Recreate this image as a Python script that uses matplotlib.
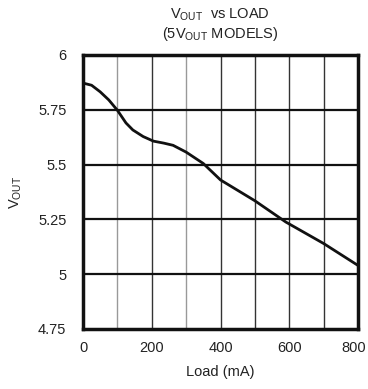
import matplotlib
matplotlib.use("Agg")
import matplotlib.pyplot as plt
import numpy as np

plt.rcParams['font.family'] = ['Liberation Sans', 'DejaVu Sans']
plt.rcParams['mathtext.default'] = 'regular'

load_ma = [0, 25, 50, 75, 100, 125, 145, 175, 205, 235, 262, 300, 350, 400, 500, 590, 700, 800]
vout = [5.872, 5.862, 5.832, 5.795, 5.748, 5.690, 5.658, 5.628, 5.607, 5.598, 5.588, 5.557, 5.505, 5.430, 5.335, 5.238, 5.14, 5.040]
xticks = [0, 200, 400, 600, 800]
yticks = [4.75, 5, 5.25, 5.5, 5.75, 6]
yticklabels = ['4.75', '5', '5.25', '5.5', '5.75', '6']

fig = plt.figure(figsize=(3.68, 3.89), dpi=100)
ax = fig.add_axes([83/368, 1-329/389, 275/368, 274/389])

# grid
for xv in range(100, 800, 100):
    col = '#999999' if xv in (100, 300) else '#333333'
    ax.axvline(xv, color=col, lw=1.0, zorder=1)
for yv in [5, 5.25, 5.5, 5.75]:
    ax.axhline(yv, color='#111111', lw=1.6, zorder=1)

ax.plot(load_ma, vout, color='#111111', lw=2.0, zorder=3,
        solid_joinstyle='round', solid_capstyle='round')

ax.set_xlim(0, 800)
ax.set_ylim(4.75, 6)
ax.set_xticks(xticks)
ax.set_yticks(yticks)
ax.set_yticklabels(yticklabels)
ax.tick_params(length=0, labelsize=10.5, colors='#222222')
ax.tick_params(axis='x', pad=9)
ax.tick_params(axis='y', pad=12)
for lbl in ax.get_xticklabels():
    if lbl.get_text() == '800':
        lbl.set_horizontalalignment('right')
        lbl.set_x(0)
xl = ax.get_xticklabels()
xl[-1].set_ha('center')
import matplotlib.transforms as mtransforms
xl[-1].set_transform(xl[-1].get_transform() + mtransforms.ScaledTranslation(-4/100, 0, fig.dpi_scale_trans))
for s in ax.spines.values():
    s.set_linewidth(2.5)
    s.set_color('#111111')

ax.set_xlabel('Load (mA)', fontsize=10.5, labelpad=7, color='#222222')
ax.set_ylabel('V$_{OUT}$', fontsize=10.5, labelpad=10, color='#222222')

fig.text(220/368, 1-15/389, 'V$_{OUT}$  vs LOAD', ha='center', va='center', fontsize=10.5, color='#222222')
fig.text(220/368, 1-34/389, '(5V$_{OUT}$ MODELS)', ha='center', va='center', fontsize=10.5, color='#222222')

fig.savefig('out.png', dpi=100)
